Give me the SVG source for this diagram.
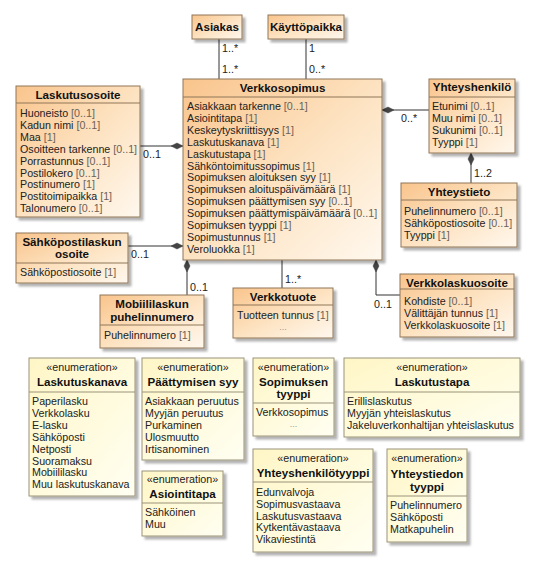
<svg xmlns="http://www.w3.org/2000/svg" width="534" height="566" viewBox="0 0 534 566">
<defs>
<linearGradient id="cg" x1="0" y1="0" x2="1" y2="1">
<stop offset="0" stop-color="#F9C48C"/>
<stop offset="0.5" stop-color="#FDE2C0"/>
<stop offset="1" stop-color="#FFF8EE"/>
</linearGradient>
<linearGradient id="eg" x1="0" y1="0" x2="1" y2="1">
<stop offset="0" stop-color="#FFF6C6"/>
<stop offset="1" stop-color="#FFFFF2"/>
</linearGradient>
<filter id="sh" x="-10%" y="-10%" width="130%" height="130%">
<feDropShadow dx="3" dy="3" stdDeviation="1.2" flood-color="#000" flood-opacity="0.3"/>
</filter>
</defs>
<style>
text{font-family:"Liberation Sans",Arial,sans-serif;fill:#222}
.c{fill:url(#cg);stroke:#8F7658;stroke-width:1;filter:url(#sh)}
.e{fill:url(#eg);stroke:#9A937A;stroke-width:1;filter:url(#sh)}
.sep{stroke:#8F7658;stroke-width:1}
.esep{stroke:#9A937A;stroke-width:1}
.t{font-size:11.6px;font-weight:bold;text-anchor:middle;fill:#111}
.a{font-size:10.7px}
.st{font-size:10.7px;text-anchor:middle}
.m{fill:#6A6258}
.dots{font-size:9px;fill:#999;text-anchor:middle}
.lbl{font-size:10.7px;fill:#222}
.ln{stroke:#333;stroke-width:1;fill:none}
.dm{fill:#444;stroke:#444;stroke-width:0.5}
</style>
<rect width="534" height="566" fill="#fff"/>

<g id="connectors">
<line class="ln" x1="219" y1="39" x2="219" y2="79"/>
<text class="lbl" x="222" y="52">1..*</text>
<text class="lbl" x="222" y="73">1..*</text>
<line class="ln" x1="306" y1="39" x2="306" y2="79"/>
<text class="lbl" x="309" y="52">1</text>
<text class="lbl" x="309" y="73">0..*</text>
<line class="ln" x1="140" y1="146" x2="183" y2="146"/>
<polygon class="dm" points="183,146 177,143 171,146 177,149"/>
<text class="lbl" x="143" y="158">0..1</text>
<line class="ln" x1="128" y1="246" x2="183" y2="246"/>
<polygon class="dm" points="183,246 177,243 171,246 177,249"/>
<text class="lbl" x="131" y="258">0..1</text>
<line class="ln" x1="187" y1="260" x2="187" y2="295"/>
<polygon class="dm" points="187,260 184,266 187,272 190,266"/>
<text class="lbl" x="190" y="291">0..1</text>
<line class="ln" x1="282" y1="260" x2="282" y2="288"/>
<text class="lbl" x="285" y="283">1..*</text>
<polyline class="ln" points="376,260 376,295 400,295"/>
<polygon class="dm" points="376,260 373,266 376,272 379,266"/>
<text class="lbl" x="374" y="308">0..1</text>
<line class="ln" x1="382" y1="110" x2="429" y2="110"/>
<polygon class="dm" points="382,110 388,107 394,110 388,113"/>
<text class="lbl" x="401" y="122">0..*</text>
<line class="ln" x1="471" y1="153" x2="471" y2="183"/>
<polygon class="dm" points="471,153 468,159 471,165 474,159"/>
<text class="lbl" x="474" y="177">1..2</text>
</g>

<g id="asiakas">
<rect class="c" x="192" y="15" width="50" height="24"/>
<text class="t" x="217" y="31">Asiakas</text>
</g>

<g id="kayttopaikka">
<rect class="c" x="268" y="15" width="76" height="24"/>
<text class="t" x="306" y="31">Käyttöpaikka</text>
</g>

<g id="verkkosopimus">
<rect class="c" x="183" y="79" width="199" height="181"/>
<line class="sep" x1="183" y1="97" x2="382" y2="97"/>
<text class="t" x="282.5" y="92">Verkkosopimus</text>
<text class="a" x="187" y="110">Asiakkaan tarkenne <tspan class="m">[0..1]</tspan></text>
<text class="a" x="187" y="121.9">Asiointitapa <tspan class="m">[1]</tspan></text>
<text class="a" x="187" y="133.8">Keskeytyskriittisyys <tspan class="m">[1]</tspan></text>
<text class="a" x="187" y="145.7">Laskutuskanava <tspan class="m">[1]</tspan></text>
<text class="a" x="187" y="157.6">Laskutustapa <tspan class="m">[1]</tspan></text>
<text class="a" x="187" y="169.5">Sähköntoimitussopimus <tspan class="m">[1]</tspan></text>
<text class="a" x="187" y="181.4">Sopimuksen aloituksen syy <tspan class="m">[1]</tspan></text>
<text class="a" x="187" y="193.3">Sopimuksen aloituspäivämäärä <tspan class="m">[1]</tspan></text>
<text class="a" x="187" y="205.2">Sopimuksen päättymisen syy <tspan class="m">[0..1]</tspan></text>
<text class="a" x="187" y="217.1">Sopimuksen päättymispäivämäärä <tspan class="m">[0..1]</tspan></text>
<text class="a" x="187" y="229">Sopimuksen tyyppi <tspan class="m">[1]</tspan></text>
<text class="a" x="187" y="240.9">Sopimustunnus <tspan class="m">[1]</tspan></text>
<text class="a" x="187" y="252.8">Veroluokka <tspan class="m">[1]</tspan></text>
</g>

<g id="laskutusosoite">
<rect class="c" x="16" y="86" width="124" height="131"/>
<line class="sep" x1="16" y1="103" x2="140" y2="103"/>
<text class="t" x="78" y="99">Laskutusosoite</text>
<text class="a" x="20" y="117">Huoneisto <tspan class="m">[0..1]</tspan></text>
<text class="a" x="20" y="128.9">Kadun nimi <tspan class="m">[0..1]</tspan></text>
<text class="a" x="20" y="140.8">Maa <tspan class="m">[1]</tspan></text>
<text class="a" x="20" y="152.7">Osoitteen tarkenne <tspan class="m">[0..1]</tspan></text>
<text class="a" x="20" y="164.6">Porrastunnus <tspan class="m">[0..1]</tspan></text>
<text class="a" x="20" y="176.5">Postilokero <tspan class="m">[0..1]</tspan></text>
<text class="a" x="20" y="188.4">Postinumero <tspan class="m">[1]</tspan></text>
<text class="a" x="20" y="200.3">Postitoimipaikka <tspan class="m">[1]</tspan></text>
<text class="a" x="20" y="212.2">Talonumero <tspan class="m">[0..1]</tspan></text>
</g>

<g id="sahkopostilaskun-osoite">
<rect class="c" x="16" y="233" width="112" height="50"/>
<line class="sep" x1="16" y1="263" x2="128" y2="263"/>
<text class="t" x="72" y="246">Sähköpostilaskun</text>
<text class="t" x="72" y="258">osoite</text>
<text class="a" x="20" y="276">Sähköpostiosoite <tspan class="m">[1]</tspan></text>
</g>

<g id="mobiililaskun-puhelinnumero">
<rect class="c" x="100" y="295" width="104" height="53"/>
<line class="sep" x1="100" y1="325" x2="204" y2="325"/>
<text class="t" x="152" y="308">Mobiililaskun</text>
<text class="t" x="152" y="321">puhelinnumero</text>
<text class="a" x="104" y="339">Puhelinnumero <tspan class="m">[1]</tspan></text>
</g>

<g id="verkkotuote">
<rect class="c" x="233" y="288" width="100" height="50"/>
<line class="sep" x1="233" y1="305" x2="333" y2="305"/>
<text class="t" x="283" y="301">Verkkotuote</text>
<text class="a" x="237" y="319">Tuotteen tunnus <tspan class="m">[1]</tspan></text>
<text class="dots" x="283" y="330">...</text>
</g>

<g id="verkkolaskuosoite">
<rect class="c" x="400" y="274" width="114" height="63"/>
<line class="sep" x1="400" y1="289" x2="514" y2="289"/>
<text class="t" x="457" y="287">Verkkolaskuosoite</text>
<text class="a" x="404" y="305">Kohdiste <tspan class="m">[0..1]</tspan></text>
<text class="a" x="404" y="317">Välittäjän tunnus <tspan class="m">[1]</tspan></text>
<text class="a" x="404" y="329">Verkkolaskuosoite <tspan class="m">[1]</tspan></text>
</g>

<g id="yhteyshenkilo">
<rect class="c" x="429" y="79" width="86" height="74"/>
<line class="sep" x1="429" y1="97" x2="515" y2="97"/>
<text class="t" x="472" y="91">Yhteyshenkilö</text>
<text class="a" x="432" y="110">Etunimi <tspan class="m">[0..1]</tspan></text>
<text class="a" x="432" y="122">Muu nimi <tspan class="m">[0..1]</tspan></text>
<text class="a" x="432" y="134">Sukunimi <tspan class="m">[0..1]</tspan></text>
<text class="a" x="432" y="146">Tyyppi <tspan class="m">[1]</tspan></text>
</g>

<g id="yhteystieto">
<rect class="c" x="401" y="183" width="116" height="64"/>
<line class="sep" x1="401" y1="200" x2="517" y2="200"/>
<text class="t" x="459" y="196">Yhteystieto</text>
<text class="a" x="404" y="215">Puhelinnumero <tspan class="m">[0..1]</tspan></text>
<text class="a" x="404" y="226.8">Sähköpostiosoite <tspan class="m">[0..1]</tspan></text>
<text class="a" x="404" y="238.6">Tyyppi <tspan class="m">[1]</tspan></text>
</g>

<g id="enum-laskutuskanava">
<rect class="e" x="29" y="358" width="106" height="138"/>
<line class="esep" x1="29" y1="392" x2="135" y2="392"/>
<text class="st" x="82" y="371">«enumeration»</text>
<text class="t" x="82" y="386">Laskutuskanava</text>
<text class="a" x="32" y="405">Paperilasku</text>
<text class="a" x="32" y="416.9">Verkkolasku</text>
<text class="a" x="32" y="428.8">E-lasku</text>
<text class="a" x="32" y="440.7">Sähköposti</text>
<text class="a" x="32" y="452.6">Netposti</text>
<text class="a" x="32" y="464.5">Suoramaksu</text>
<text class="a" x="32" y="476.4">Mobiililasku</text>
<text class="a" x="32" y="488.3">Muu laskutuskanava</text>
</g>

<g id="enum-paattymisen-syy">
<rect class="e" x="142" y="358" width="102" height="102"/>
<line class="esep" x1="142" y1="392" x2="244" y2="392"/>
<text class="st" x="193" y="371">«enumeration»</text>
<text class="t" x="193" y="386">Päättymisen syy</text>
<text class="a" x="145" y="405">Asiakkaan peruutus</text>
<text class="a" x="145" y="416.9">Myyjän peruutus</text>
<text class="a" x="145" y="428.8">Purkaminen</text>
<text class="a" x="145" y="440.7">Ulosmuutto</text>
<text class="a" x="145" y="452.6">Irtisanominen</text>
</g>

<g id="enum-asiointitapa">
<rect class="e" x="142" y="471" width="81" height="65"/>
<line class="esep" x1="142" y1="503" x2="223" y2="503"/>
<text class="st" x="182.5" y="483">«enumeration»</text>
<text class="t" x="182.5" y="498">Asiointitapa</text>
<text class="a" x="145" y="516">Sähköinen</text>
<text class="a" x="145" y="528">Muu</text>
</g>

<g id="enum-sopimuksen-tyyppi">
<rect class="e" x="253" y="358" width="81" height="78"/>
<line class="esep" x1="253" y1="403" x2="334" y2="403"/>
<text class="st" x="293.5" y="371">«enumeration»</text>
<text class="t" x="293.5" y="386">Sopimuksen</text>
<text class="t" x="293.5" y="398">tyyppi</text>
<text class="a" x="256" y="416">Verkkosopimus</text>
<text class="dots" x="293.5" y="427">...</text>
</g>

<g id="enum-laskutustapa">
<rect class="e" x="344" y="358" width="176" height="79"/>
<line class="esep" x1="344" y1="392" x2="520" y2="392"/>
<text class="st" x="432" y="371">«enumeration»</text>
<text class="t" x="432" y="386">Laskutustapa</text>
<text class="a" x="347" y="405">Erillislaskutus</text>
<text class="a" x="347" y="416.9">Myyjän yhteislaskutus</text>
<text class="a" x="347" y="428.8">Jakeluverkonhaltijan yhteislaskutus</text>
</g>

<g id="enum-yhteyshenkilotyyppi">
<rect class="e" x="253" y="449" width="120" height="103"/>
<line class="esep" x1="253" y1="482" x2="373" y2="482"/>
<text class="st" x="313" y="462">«enumeration»</text>
<text class="t" x="313" y="477">Yhteyshenkilötyyppi</text>
<text class="a" x="256" y="496">Edunvalvoja</text>
<text class="a" x="256" y="507.8">Sopimusvastaava</text>
<text class="a" x="256" y="519.6">Laskutusvastaava</text>
<text class="a" x="256" y="531.4">Kytkentävastaava</text>
<text class="a" x="256" y="543.2">Vikaviestintä</text>
</g>

<g id="enum-yhteystiedon-tyyppi">
<rect class="e" x="387" y="449" width="80" height="93"/>
<line class="esep" x1="387" y1="496" x2="467" y2="496"/>
<text class="st" x="427" y="462">«enumeration»</text>
<text class="t" x="427" y="478">Yhteystiedon</text>
<text class="t" x="427" y="491">tyyppi</text>
<text class="a" x="390" y="509">Puhelinnumero</text>
<text class="a" x="390" y="521">Sähköposti</text>
<text class="a" x="390" y="533">Matkapuhelin</text>
</g>
</svg>
